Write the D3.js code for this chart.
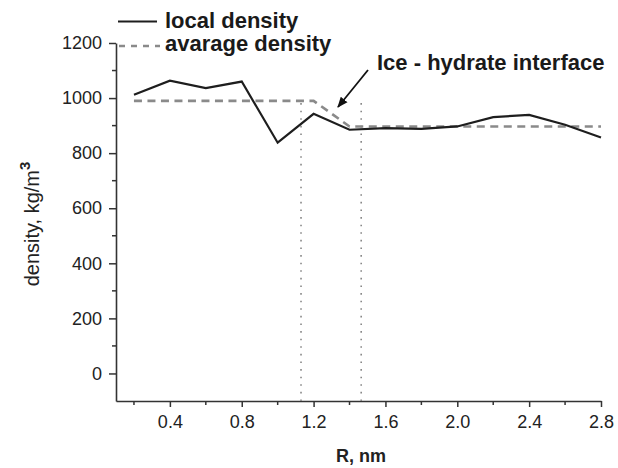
<!DOCTYPE html>
<html>
<head>
<meta charset="utf-8">
<script src="https://cdn.jsdelivr.net/npm/d3@7"></script>
<style>
  body { margin: 0; background: #fff; }
  svg { font-family: "Liberation Sans", Arial, sans-serif; }
</style>
</head>
<body>
<div id="chart"></div>
<script>
// local density profile, R in nm
const radius = [0.2, 0.4, 0.6, 0.8, 1.0, 1.2, 1.4, 1.6, 1.8, 2.0, 2.2, 2.4, 2.6, 2.8];
const localDensity = [1012, 1063, 1036, 1060, 838, 943, 885, 891, 888, 897, 931, 939, 903, 857];

// average density step
const avgRadius = [0.2, 1.2, 1.4, 2.8];
const avgDensity = [990, 990, 897, 897];

// interface markers (dotted verticals)
const interfaceR = [1.13, 1.465];
const interfaceTop = 982;

const xTicks = [0.4, 0.8, 1.2, 1.6, 2.0, 2.4, 2.8];
const xMinor = [0.2, 0.6, 1.0, 1.4, 1.8, 2.2, 2.6];
const yTicks = [0, 200, 400, 600, 800, 1000, 1200];
const yMinor = [100, 300, 500, 700, 900, 1100];

const width = 618, height = 468;

const x = d3.scaleLinear().domain([0.1, 2.8]).range([116, 601]);
const y = d3.scaleLinear().domain([-100, 1200]).range([401, 43]);

const svg = d3.select('#chart').append('svg')
    .attr('width', width)
    .attr('height', height);

const axisColor = '#333';

// x axis
const xAxis = svg.append('g')
    .attr('transform', `translate(0,${y(-100)})`)
    .call(d3.axisBottom(x).tickValues(xTicks).tickFormat(d3.format('.1f'))
        .tickSizeInner(6).tickSizeOuter(0).tickPadding(8));
xAxis.append('g').selectAll('line')
    .data(xMinor)
    .enter().append('line')
    .attr('x1', d => x(d)).attr('x2', d => x(d))
    .attr('y1', 0).attr('y2', 4)
    .attr('stroke', axisColor).attr('stroke-width', 1.5);

// y axis
const yAxis = svg.append('g')
    .attr('transform', `translate(${x(0.1)},0)`)
    .call(d3.axisLeft(y).tickValues(yTicks).tickFormat(d3.format('d'))
        .tickSizeInner(7).tickSizeOuter(0).tickPadding(7));
yAxis.append('g').selectAll('line')
    .data(yMinor)
    .enter().append('line')
    .attr('y1', d => y(d)).attr('y2', d => y(d))
    .attr('x1', 0).attr('x2', -4)
    .attr('stroke', axisColor).attr('stroke-width', 1.5);

svg.selectAll('.domain').attr('stroke', axisColor).attr('stroke-width', 1.6);
svg.selectAll('.tick line').attr('stroke', axisColor).attr('stroke-width', 1.5);
svg.selectAll('.tick text')
    .attr('fill', '#222')
    .attr('font-size', '18px')
    .attr('font-family', '"Liberation Sans", Arial, sans-serif');

// axis titles
svg.append('text')
    .attr('x', 361)
    .attr('y', 462)
    .attr('text-anchor', 'middle')
    .attr('font-size', '18px')
    .attr('font-weight', 'bold')
    .attr('fill', '#222')
    .text('R, nm');

const yTitle = svg.append('text')
    .attr('transform', `translate(39,${224}) rotate(-90)`)
    .attr('text-anchor', 'middle')
    .attr('font-size', '20px')
    .attr('fill', '#222');
yTitle.append('tspan').text('density, kg/m');
yTitle.append('tspan')
    .attr('dy', '-9')
    .attr('font-size', '15px')
    .attr('font-weight', 'bold')
    .text('3');

// interface dotted lines
svg.append('g').selectAll('line')
    .data(interfaceR)
    .enter().append('line')
    .attr('x1', d => x(d)).attr('x2', d => x(d))
    .attr('y1', y(interfaceTop)).attr('y2', y(-100))
    .attr('stroke', '#888')
    .attr('stroke-width', 1.6)
    .attr('stroke-dasharray', '1.6,6');

// average density
const avgLine = d3.line().x((d, i) => x(avgRadius[i])).y(d => y(d));
svg.append('path')
    .datum(avgDensity)
    .attr('d', avgLine)
    .attr('fill', 'none')
    .attr('stroke', '#8a8a8a')
    .attr('stroke-width', 2.6)
    .attr('stroke-dasharray', '8,5.5');

// local density
const localLine = d3.line().x((d, i) => x(radius[i])).y(d => y(d));
svg.append('path')
    .datum(localDensity)
    .attr('d', localLine)
    .attr('fill', 'none')
    .attr('stroke', '#1e1e1e')
    .attr('stroke-width', 2.2)
    .attr('stroke-linejoin', 'miter');

// legend
const legend = svg.append('g');
legend.append('line')
    .attr('x1', 118).attr('x2', 157).attr('y1', 21.5).attr('y2', 21.5)
    .attr('stroke', '#1e1e1e').attr('stroke-width', 2.2);
legend.append('line')
    .attr('x1', 119).attr('x2', 160).attr('y1', 46).attr('y2', 46)
    .attr('stroke', '#8a8a8a').attr('stroke-width', 2.4)
    .attr('stroke-dasharray', '6,6');
legend.append('text')
    .attr('x', 165).attr('y', 28)
    .attr('font-size', '22px').attr('font-weight', 'bold').attr('fill', '#1a1a1a')
    .text('local density');
legend.append('text')
    .attr('x', 165).attr('y', 51)
    .attr('font-size', '22px').attr('font-weight', 'bold').attr('fill', '#1a1a1a')
    .text('avarage density');

// annotation
svg.append('defs').append('marker')
    .attr('id', 'arrow')
    .attr('viewBox', '0 0 10 10')
    .attr('refX', 9).attr('refY', 5)
    .attr('markerWidth', 6).attr('markerHeight', 6)
    .attr('markerUnits', 'strokeWidth')
    .attr('orient', 'auto')
    .append('path')
    .attr('d', 'M0,1 L10,5 L0,9 Z')
    .attr('fill', '#111');

svg.append('line')
    .attr('x1', 368).attr('y1', 70)
    .attr('x2', 338).attr('y2', 107)
    .attr('stroke', '#111')
    .attr('stroke-width', 1.8)
    .attr('marker-end', 'url(#arrow)');

svg.append('text')
    .attr('x', 377).attr('y', 70)
    .attr('font-size', '22px').attr('font-weight', 'bold').attr('fill', '#1a1a1a')
    .text('Ice - hydrate interface');
</script>
</body>
</html>
